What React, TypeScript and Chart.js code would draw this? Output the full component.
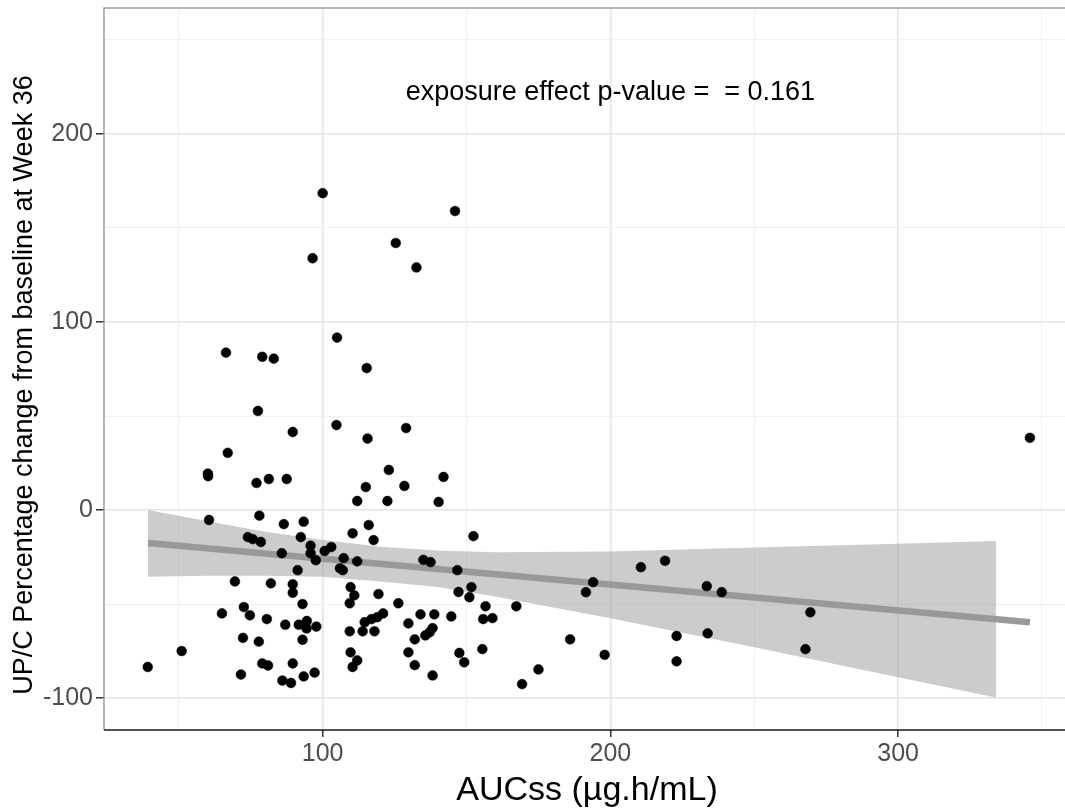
import { useEffect, useRef } from "react";
import { Chart, registerables } from "chart.js";

Chart.register(...registerables);

const FONT = "'Liberation Sans', Arial, Helvetica, sans-serif";

// Observed points: AUCss (x) and UP/C % change from baseline at week 36 (y)
const aucss = [
  39.2, 51, 65, 72.6, 74.7, 80.6, 72.3, 77.8, 79, 81, 71.6, 89.6, 87, 91.7, 94.5, 94.4, 97.8, 93, 93, 89.6,
  89.6, 82, 69.5, 86, 89, 93.4, 97.2, 66.4, 79, 83, 77.5, 89.6, 67, 60.1, 60.2, 77, 81.3, 87.5, 60.5, 78,
  86.5, 93.4, 74, 75.7, 78.5, 92.4, 85.8, 95.8, 95.8, 97.6, 91.3, 100, 96.5,
  100.7, 103, 107.3, 106, 107, 105, 104.8, 146, 125.4, 132.6, 115.3, 115.6, 129, 123, 115, 128.4, 142, 112,
  122.5, 140.3, 116, 110.4, 117.7, 112, 135, 137.5, 146.8, 152.4, 109.7, 111, 109.4, 119.4, 126.3, 147.2,
  151.7, 151, 156.6, 167.3, 114.6, 117, 119, 121, 109.4, 113.9, 118, 129.8, 134, 138.8, 144.7, 155.8, 159,
  132, 135.7, 137.2, 138.2, 109.7, 112, 110.4, 129.8, 132, 138.2, 147.5, 149.2, 155.5, 169.3,
  175, 186, 191.5, 194, 198, 210.6, 219, 223, 223, 233.5, 233.8, 238.7, 269.5, 267.8, 345.8,
];
const upcChange = [
  -83.5, -75, -55, -51.6, -56, -58, -68, -70, -81.6, -82.7, -87.5, -81.6, -61, -61, -59, -63, -62, -69, -50, -39.5,
  -44, -39, -38, -90.7, -92, -88.5, -86.5, 83.7, 81.5, 80.5, 52.7, 41.5, 30.4, 19.4, 18, 14.4, 16.5, 16.5, -5.3, -3,
  -7.5, -6.2, -14.4, -15.5, -17, -14.4, -23, -19, -23, -26.7, -32, 168.5, 133.9,
  -21.8, -19.7, -25.6, -31, -32, 91.7, 45.2, 159, 142, 129, 75.5, 38, 43.6, 21.3, 12.2, 12.8, 17.6, 4.8,
  4.8, 4.3, -8, -12.4, -16, -27.3, -26.5, -27.7, -32, -13.9, -41, -45.4, -49.6, -44.7, -49.6, -43.6,
  -41, -46.4, -51.2, -51.2, -59.7, -58, -57, -55, -64.5, -64.5, -64.5, -60.3, -55.5, -55.5, -56.6, -58, -57.5,
  -68.8, -66.7, -65, -62.8, -75.7, -80, -83.5, -75.7, -82.5, -88, -76, -81, -74, -92.6,
  -84.8, -68.8, -43.7, -38.4, -77, -30.4, -27, -67, -80.5, -40.5, -65.6, -43.7, -54.4, -74, 38.4,
];

// Linear fit line
const fitX = [39.3, 345.8];
const fitY = [-17.6, -59.7];

// Confidence band
const bandX = [39.3, 60, 80, 100, 120, 140, 160, 200, 250, 300, 334];
const bandUpper = [0, -6, -11.5, -16, -19.5, -21.5, -22.5, -22, -20, -18, -16.5];
const bandLower = [-35.5, -35, -35, -35.5, -38, -41, -46, -57.5, -73, -89, -99.7];

// Axis ticks
const xTicks = [50, 100, 150, 200, 250, 300, 350];
const yTicks = [-100, -50, 0, 50, 100, 150, 200, 250];
const xTitle = "AUCss (µg.h/mL)";
const yTitle = "UP/C Percentage change from baseline at Week 36";
const annotation = "exposure effect p-value =  = 0.161";
const annotationAt = { x: 200, y: 222 };

const isMajor = (v: number) => Math.abs(v % 100) < 1e-9;

export default function App() {
  const ref = useRef<HTMLCanvasElement | null>(null);

  useEffect(() => {
    const canvas = ref.current;
    if (!canvas) return;

    const points = aucss.map((x, i) => ({ x, y: upcChange[i] }));
    const fit = fitX.map((x, i) => ({ x, y: fitY[i] }));
    const upper = bandX.map((x, i) => ({ x, y: bandUpper[i] }));
    const lower = bandX.map((x, i) => ({ x, y: bandLower[i] }));

    const decor = {
      id: "decor",
      afterDraw(chart: any) {
        const { ctx, chartArea } = chart;
        const xs = chart.scales.x;
        const ys = chart.scales.y;
        ctx.save();
        // panel border
        ctx.lineWidth = 1.5;
        ctx.strokeStyle = "#9e9e9e";
        ctx.beginPath();
        ctx.moveTo(chartArea.left, chartArea.bottom);
        ctx.lineTo(chartArea.left, chartArea.top);
        ctx.lineTo(chartArea.right, chartArea.top);
        ctx.stroke();
        ctx.strokeStyle = "#1a1a1a";
        ctx.beginPath();
        ctx.moveTo(chartArea.left, chartArea.bottom);
        ctx.lineTo(chartArea.right, chartArea.bottom);
        ctx.stroke();

        // annotation
        ctx.fillStyle = "#000";
        ctx.textAlign = "center";
        ctx.textBaseline = "middle";
        ctx.font = `27px ${FONT}`;
        ctx.fillText(annotation, xs.getPixelForValue(annotationAt.x), ys.getPixelForValue(annotationAt.y));

        // x title
        ctx.font = `34px ${FONT}`;
        ctx.fillText(xTitle, 587, 791);

        // y title
        ctx.translate(24.5, 385);
        ctx.rotate(-Math.PI / 2);
        ctx.font = `27px ${FONT}`;
        ctx.fillText(yTitle, 0, 0);
        ctx.restore();
      },
    };

    const gridColor = (c: any) =>
      c.tick && isMajor(c.tick.value) ? "#e4e4e4" : "#f0f0f0";
    const gridWidth = (c: any) => (c.tick && isMajor(c.tick.value) ? 1.5 : 1);
    const tickColor = (c: any) =>
      c.tick && isMajor(c.tick.value) ? "#333333" : "rgba(0,0,0,0)";

    const chart = new Chart(canvas, {
      type: "scatter",
      data: {
        datasets: [
          {
            label: "obs",
            data: points,
            backgroundColor: "#000000",
            borderColor: "#000000",
            borderWidth: 0.5,
            pointRadius: 4.9,
            order: 0,
          },
          {
            label: "fit",
            data: fit,
            showLine: true,
            borderColor: "#999999",
            borderWidth: 6.5,
            pointRadius: 0,
            fill: false,
            order: 1,
          },
          {
            label: "upper",
            data: upper,
            showLine: true,
            borderColor: "rgba(0,0,0,0)",
            borderWidth: 0,
            pointRadius: 0,
            fill: false,
            order: 2,
          },
          {
            label: "lower",
            data: lower,
            showLine: true,
            borderColor: "rgba(0,0,0,0)",
            borderWidth: 0,
            pointRadius: 0,
            fill: "-1",
            backgroundColor: "rgba(153,153,153,0.5)",
            order: 3,
          },
        ] as any,
      },
      options: {
        animation: false,
        responsive: false,
        devicePixelRatio: 1,
        layout: { autoPadding: false, padding: { top: 8, left: 0, right: 0, bottom: 0 } },
        plugins: {
          legend: { display: false },
          tooltip: { enabled: false },
        },
        scales: {
          x: {
            type: "linear",
            min: 24,
            max: 358,
            bounds: "data",
            afterBuildTicks: (s: any) => {
              s.ticks = xTicks.map((v) => ({ value: v }));
            },
            afterFit: (s: any) => {
              s.height = 78;
              s.paddingLeft = 0;
              s.paddingRight = 0;
            },
            border: { display: false },
            grid: {
              color: gridColor,
              lineWidth: gridWidth,
              tickColor: tickColor,
              tickLength: 7,
              tickWidth: 1.5,
              drawTicks: true,
            },
            ticks: {
              autoSkip: false,
              maxRotation: 0,
              padding: 2,
              color: "#4d4d4d",
              font: { family: FONT, size: 25 },
              callback: (v: any) => (isMajor(Number(v)) ? String(v) : ""),
            },
          },
          y: {
            type: "linear",
            min: -117,
            max: 267,
            bounds: "data",
            afterBuildTicks: (s: any) => {
              s.ticks = yTicks.map((v) => ({ value: v }));
            },
            afterFit: (s: any) => {
              s.width = 104;
              s.paddingTop = 0;
              s.paddingBottom = 0;
            },
            border: { display: false },
            grid: {
              color: gridColor,
              lineWidth: gridWidth,
              tickColor: tickColor,
              tickLength: 8,
              tickWidth: 1.5,
              drawTicks: true,
            },
            ticks: {
              autoSkip: false,
              padding: 3,
              color: "#4d4d4d",
              font: { family: FONT, size: 25 },
              callback: (v: any) => (isMajor(Number(v)) ? String(v) : ""),
            },
          },
        },
      } as any,
      plugins: [decor],
    });

    return () => chart.destroy();
  }, []);

  return (
    <div style={{ position: "fixed", left: 0, top: 0, width: 1065, height: 808, background: "#fff" }}>
      <canvas ref={ref} width={1065} height={808} style={{ width: 1065, height: 808, display: "block" }} />
    </div>
  );
}
